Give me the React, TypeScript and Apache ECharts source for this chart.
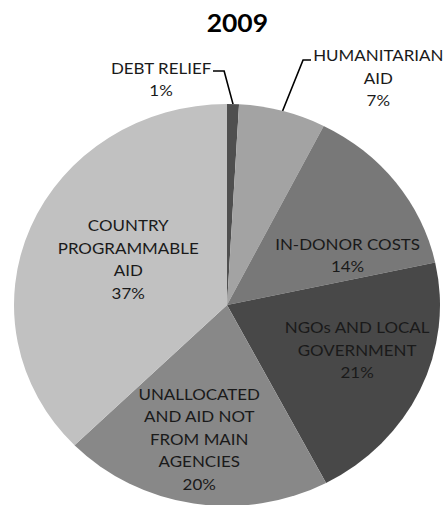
import React, { useEffect, useRef } from "react";
import * as echarts from "echarts";

const categories = [
  "DEBT RELIEF",
  "HUMANITARIAN\nAID",
  "IN-DONOR COSTS",
  "NGOs AND LOCAL\nGOVERNMENT",
  "UNALLOCATED\nAND AID NOT\nFROM MAIN\nAGENCIES",
  "COUNTRY\nPROGRAMMABLE\nAID",
];
const shares = [0.9, 6.6, 14.1, 20.7, 20.4, 37.3];
const sliceColors = ["#4f4f4f", "#a3a3a3", "#787878", "#484848", "#888888", "#c1c1c1"];
const outsideLabel = [true, true, false, false, false, false];
// label centres in chart pixels (unscaled)
const labelPos: [number, number][] = [
  [152, 79],
  [357, 78],
  [328, 255],
  [337, 350],
  [188, 439],
  [121, 259],
];
// leader line bend and end points (unscaled) for outside labels
const leaderPts: ([number, number][] | null)[] = [
  [[211.5, 71], [201, 71]],
  [[286, 60], [293.5, 60]],
  null,
  null,
  null,
  null,
];

const SX = 213 / 201;
const W = 447 / SX;
const H = 505;

export default function App() {
  const ref = useRef<HTMLDivElement>(null);
  useEffect(() => {
    document.body.style.margin = "0";
    const chart = echarts.init(ref.current!, null, { renderer: "svg" });
    const font = "Lato, 'Noto Sans', sans-serif";
    chart.setOption({
      animation: false,
      title: {
        text: "2009",
        left: 224,
        top: 10,
        padding: 0,
        textAlign: "center",
        textStyle: { fontFamily: font, fontWeight: "bold", fontSize: 25, color: "#000" },
      },
      series: [
        {
          type: "pie",
          center: [227 / SX, 305],
          radius: [0, 201],
          startAngle: 90,
          clockwise: true,
          avoidLabelOverlap: false,
          percentPrecision: 0,
          itemStyle: { borderWidth: 0 },
          label: {
            fontFamily: font,
            fontSize: 16,
            lineHeight: 22.5,
            color: "#1a1a1a",
            align: "center",
            formatter: (p: any) => `${p.name}\n${p.percent}%`,
          },
          labelLine: { lineStyle: { color: "#000", width: 1.5 }, length: 20, length2: 8 },
          labelLayout: (p: any) => {
            const pos = labelPos[p.dataIndex];
            const out: any = { x: pos[0], y: pos[1], align: "center", verticalAlign: "middle" };
            const lp = leaderPts[p.dataIndex];
            if (lp && p.labelLinePoints && p.labelLinePoints[0]) {
              const start = p.labelLinePoints[0];
              out.labelLinePoints = [[start[0], start[1]], lp[0], lp[1]];
            }
            return out;
          },
          data: shares.map((v, i) => ({
            value: v,
            name: categories[i],
            itemStyle: { color: sliceColors[i] },
            label: { position: outsideLabel[i] ? "outside" : "inside" },
            labelLine: { show: outsideLabel[i] },
          })),
        },
      ],
    });
    return () => chart.dispose();
  }, []);
  return (
    <div style={{ width: 447, height: 505, overflow: "hidden", position: "relative" }}>
      <div
        ref={ref}
        style={{
          width: W,
          height: H,
          transform: `scaleX(${SX})`,
          transformOrigin: "0 0",
        }}
      />
    </div>
  );
}
